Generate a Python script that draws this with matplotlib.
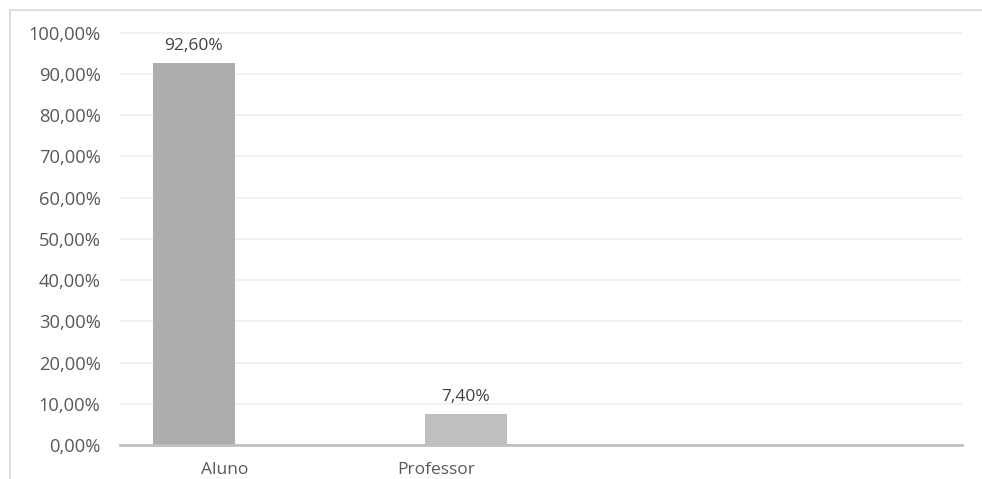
import matplotlib
matplotlib.use("Agg")
import matplotlib.pyplot as plt
from matplotlib.patches import Rectangle
from matplotlib.ticker import FuncFormatter

# data
categories = ["Aluno", "Professor"]
shares = [0.926, 0.074]
bar_colors = ["#adadad", "#bfbfbf"]

W, H = 982, 479
plt.rcParams["font.family"] = ["Open Sans", "DejaVu Sans"]

fig = plt.figure(figsize=(W / 100, H / 100), dpi=100)
ax = fig.add_axes([120 / W, 34 / H, 842 / W, 413 / H])

# light frame around the chart area
fig.patches.append(Rectangle((10 / W, -0.05), 1.0, 1 - 10 / H + 0.05,
                             transform=fig.transFigure, fill=False,
                             edgecolor="#d9d9d9", linewidth=1.2))

xs = list(range(len(categories)))
bars = ax.bar(xs, shares, width=0.30, color=bar_colors, zorder=3)

def pt(v):
    return f"{v * 100:.2f}%".replace(".", ",")

for b, v in zip(bars, shares):
    ax.annotate(pt(v), (b.get_x() + b.get_width() / 2, v), xytext=(0, 7),
                textcoords="offset points", ha="center", va="bottom",
                fontsize=12.5, color="#404040")

ax.set_xlim(-0.272, 2.824)
ax.set_ylim(0, 1.002)
ax.set_yticks([i / 10 for i in range(11)])
ax.yaxis.set_major_formatter(FuncFormatter(lambda v, _: pt(v)))
ax.set_xticks([x + off for x, off in zip(xs, [0.114, -0.11])])
ax.set_xticklabels(categories)

ax.grid(axis="y", color="#efefef", linewidth=1.2, zorder=0)
for s in ["top", "right", "left"]:
    ax.spines[s].set_visible(False)
ax.spines["bottom"].set_color("#bfbfbf")
ax.spines["bottom"].set_linewidth(2)
ax.spines["bottom"].set_zorder(4)
ax.tick_params(axis="both", length=0, labelsize=12.5, labelcolor="#595959")
ax.tick_params(axis="y", labelsize=13.2, pad=14)
ax.tick_params(axis="x", pad=12)

fig.savefig("out.png", dpi=100)
